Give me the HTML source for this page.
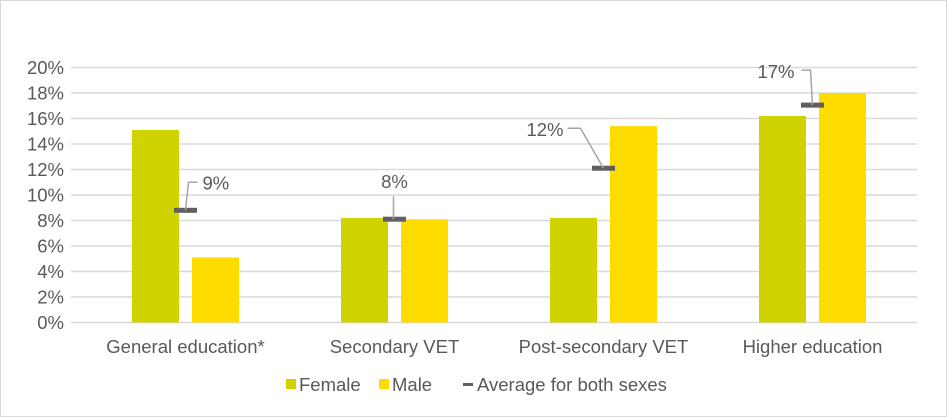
<!DOCTYPE html>
<html><head><meta charset="utf-8"><style>
html,body{margin:0;padding:0;background:#fff}
svg{display:block;font-family:"Liberation Sans",Arial,sans-serif}
</style></head><body>
<svg id="chart" width="947" height="417" viewBox="0 0 947 417">
<rect x="0.5" y="0.5" width="946" height="416" fill="#fff" stroke="#d9d9d9"/>
<g id="grid"></g><g id="bars"></g><g id="labels"></g>
<g font-size="18.5" fill="#595959">
<rect x="286" y="379" width="10" height="10" fill="#cfd300"/>
<text x="299" y="391">Female</text>
<rect x="379" y="379" width="10" height="10" fill="#ffdc00"/>
<text x="392" y="391">Male</text>
<rect x="463" y="383" width="10" height="3" fill="#5f5f5f"/>
<text x="477" y="391">Average for both sexes</text>
</g>
</svg>
<script>
const categories=["General education*","Secondary VET","Post-secondary VET","Higher education"];
const female=[15.1,8.2,8.2,16.2];
const male=[5.1,8.1,15.4,18.0];
const average=[8.8,8.1,12.1,17.05];
const avgLabels=["9%","8%","12%","17%"];
const yTicks=[0,2,4,6,8,10,12,14,16,18,20];
const NS="http://www.w3.org/2000/svg";
const FS=18.5;
const x0=81,x1=917,yB=322.5,yT=67.5,yMax=20;
const band=(x1-x0)/categories.length;
const y=v=>yB-(v/yMax)*(yB-yT);
const cx=i=>x0+band*(i+0.5);
function mk(tag,attrs,parent){const e=document.createElementNS(NS,tag);for(const k in attrs)e.setAttribute(k,attrs[k]);parent.appendChild(e);return e;}
const grid=document.getElementById('grid'),bars=document.getElementById('bars'),labels=document.getElementById('labels');
yTicks.forEach(t=>{
 const l=mk('line',{x1:x0-10,x2:x1,y1:y(t),y2:y(t),stroke:'#d9d9d9','stroke-width':1.5},grid);
 
 
 const tx=mk('text',{x:64,y:y(t)+6.5,'text-anchor':'end','font-size':FS,fill:'#595959'},grid);
 tx.textContent=t+'%';
 
 
});
const bw=47,gap=13;
categories.forEach((c,i)=>{
 const c0=cx(i);
 const f=mk('rect',{x:c0-gap/2-bw,y:y(female[i]),width:bw,height:yB-y(female[i]),fill:'#cfd300'},bars);
 
 
 const m=mk('rect',{x:c0+gap/2,y:y(male[i]),width:bw,height:yB-y(male[i]),fill:'#ffdc00'},bars);
 
 
 const ay=y(average[i]);
 let lx,ly,pts,anchor;
 if(i===0){pts=[[c0,ay],[c0+3,ay-28],[c0+12,ay-28]];lx=c0+17;ly=ay-21;anchor='start';}
 else if(i===1){pts=[[c0-1,ay],[c0-1,ay-23]];lx=c0;ly=ay-31;anchor='middle';}
 else if(i===2){pts=[[c0,ay],[c0-23,ay-40],[c0-36,ay-40]];lx=c0-40;ly=ay-32;anchor='end';}
 else {pts=[[c0,ay],[c0-2,ay-35],[c0-11,ay-35]];lx=c0-18;ly=ay-27;anchor='end';}
 const pl=mk('polyline',{points:pts.map(p=>p.join(',')).join(' '),fill:'none',stroke:'#a6a6a6','stroke-width':1.5},labels);
 
 
 const a=mk('rect',{x:c0-11.5,y:ay-2.5,width:23,height:5,fill:'#5f5f5f'},bars);
 
 
 const lt=mk('text',{x:lx,y:ly,'text-anchor':anchor,'font-size':FS,fill:'#595959'},labels);
 lt.textContent=avgLabels[i];
 
 
 const xt=mk('text',{x:c0,y:353,'text-anchor':'middle','font-size':FS,fill:'#595959'},labels);
 xt.textContent=c;
 
 
});
</script>
</body></html>
